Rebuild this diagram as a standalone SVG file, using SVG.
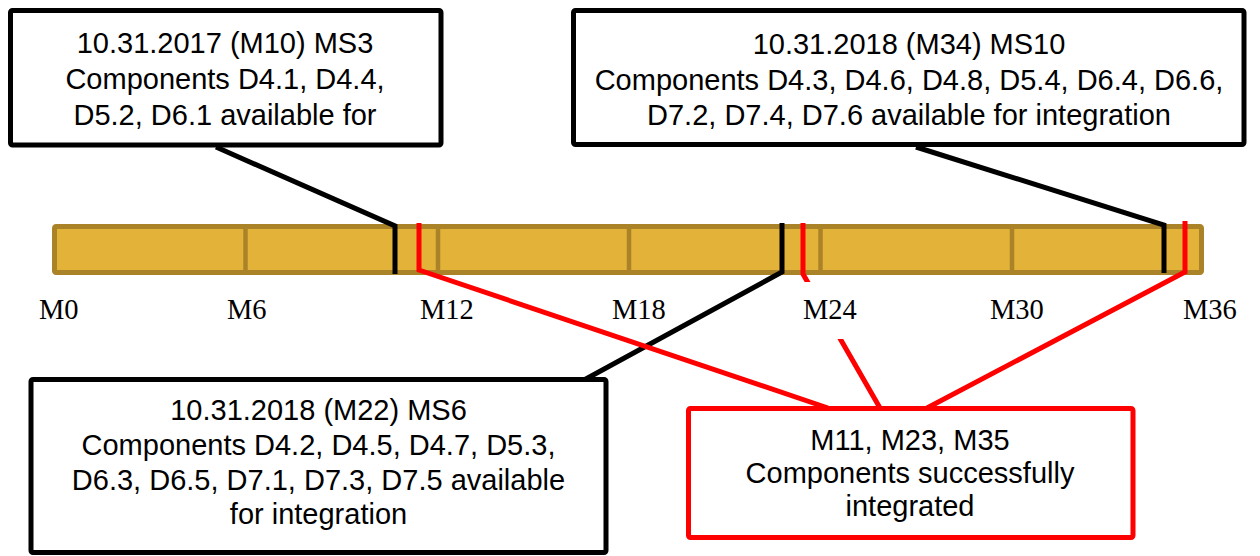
<svg xmlns="http://www.w3.org/2000/svg" width="1260" height="556" viewBox="0 0 1260 556">
<style>
.box{fill:#fff;stroke:#000;stroke-width:5}
.rbox{fill:#fff;stroke:#f00;stroke-width:5}
.t{font-family:"Liberation Sans",Arial,sans-serif;font-size:29px;text-anchor:middle;fill:#000}
.ax{font-family:"Liberation Serif","Times New Roman",serif;font-size:28.5px;fill:#000}
.bl{fill:none;stroke:#000;stroke-width:5}
.rl{fill:none;stroke:#f00;stroke-width:5}
.seg{stroke:#AA8328;stroke-width:4.5}
</style>
<rect width="1260" height="556" fill="#fff"/>
<g id="timeline">
<rect x="52.5" y="224.5" width="1151" height="50" rx="3" fill="none" stroke="#D9C28A" stroke-width="1"/>
<rect x="54.5" y="226.5" width="1147" height="46" rx="2" fill="#E3B238" stroke="#AA8328" stroke-width="5"/>
<line class="seg" x1="245.5" y1="227" x2="245.5" y2="272"/>
<line class="seg" x1="438" y1="227" x2="438" y2="272"/>
<line class="seg" x1="629" y1="227" x2="629" y2="272"/>
<line class="seg" x1="820.5" y1="227" x2="820.5" y2="272"/>
<line class="seg" x1="1012" y1="227" x2="1012" y2="272"/>
</g>
<g id="connectors">
<polyline class="bl" points="216,147 395,226 395,274"/>
<polyline class="bl" points="782,223 782,272 584,380"/>
<polyline class="bl" points="916,147 1164,225 1164,273"/>
<polyline class="rl" points="419,223 419,270 828,408"/>
<polyline class="rl" points="803,223 803,274 880,408"/>
<polyline class="rl" points="1185,221 1185,272 927,408"/>
</g>
<g id="axis-labels">
<text class="ax" x="39" y="319">M0</text>
<text class="ax" x="227" y="319">M6</text>
<text class="ax" x="420" y="319">M12</text>
<text class="ax" x="612" y="319">M18</text>
<rect x="796" y="282" width="70" height="57" fill="#fff"/>
<text class="ax" x="803" y="319">M24</text>
<text class="ax" x="990" y="319">M30</text>
<text class="ax" x="1183" y="319">M36</text>
</g>
<g id="ms3">
<rect class="box" x="10.5" y="10.5" width="430.5" height="134.5" rx="2"/>
<text class="t" x="225" y="53">10.31.2017 (M10) MS3</text>
<text class="t" x="225" y="89">Components D4.1, D4.4,</text>
<text class="t" x="225" y="125">D5.2, D6.1 available for</text>
</g>
<g id="ms10">
<rect class="box" x="573.5" y="10.5" width="670.5" height="134" rx="2"/>
<text class="t" x="909" y="54">10.31.2018 (M34) MS10</text>
<text class="t" x="909" y="90">Components D4.3, D4.6, D4.8, D5.4, D6.4, D6.6,</text>
<text class="t" x="909" y="125">D7.2, D7.4, D7.6 available for integration</text>
</g>
<g id="ms6">
<rect class="box" x="31" y="379.5" width="575" height="173" rx="2"/>
<text class="t" x="318.5" y="420">10.31.2018 (M22) MS6</text>
<text class="t" x="318.5" y="455">Components D4.2, D4.5, D4.7, D5.3,</text>
<text class="t" x="318.5" y="490">D6.3, D6.5, D7.1, D7.3, D7.5 available</text>
<text class="t" x="318.5" y="524">for integration</text>
</g>
<g id="integrated">
<rect class="rbox" x="688.5" y="408.5" width="444.5" height="129" rx="2"/>
<text class="t" x="910" y="450">M11, M23, M35</text>
<text class="t" x="910" y="483">Components successfully</text>
<text class="t" x="910" y="516">integrated</text>
</g>
</svg>
